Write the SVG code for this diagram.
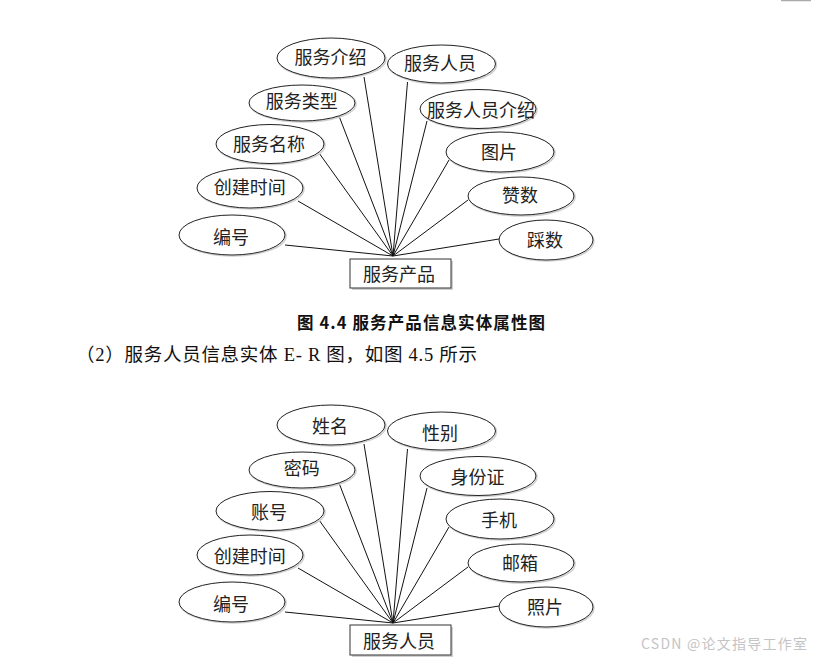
<svg xmlns="http://www.w3.org/2000/svg" width="819" height="662" viewBox="0 0 819 662">
<style>
.el{fill:#fff;stroke:#222;stroke-width:1}
.sh{fill:none;stroke:#cfcfcf;stroke-width:1.5}
.lb{font-family:"Noto Sans CJK SC","Noto Sans CJK JP",sans-serif;font-size:18px;fill:#222;text-anchor:middle}
.bx{fill:#fff;stroke:#333;stroke-width:1}
.bs{fill:#d0d0d0}
.ln{stroke:#111;stroke-width:1;fill:none}
</style>
<rect x="0" y="0" width="819" height="662" fill="#fff"/>
<line x1="781" y1="0.5" x2="811" y2="0.5" stroke="#aaa" stroke-width="1.5"/>

<g id="connectors1">
<line class="ln" x1="285" y1="245" x2="393" y2="256"/>
<line class="ln" x1="298" y1="201" x2="393" y2="256"/>
<line class="ln" x1="319" y1="153" x2="393" y2="256"/>
<line class="ln" x1="339" y1="116" x2="393" y2="256"/>
<line class="ln" x1="364" y1="77" x2="393" y2="256"/>
<line class="ln" x1="407.5" y1="82" x2="393" y2="256"/>
<line class="ln" x1="427" y1="121" x2="393" y2="256"/>
<line class="ln" x1="449" y1="160" x2="393" y2="256"/>
<line class="ln" x1="468" y1="200" x2="393" y2="256"/>
<line class="ln" x1="499" y1="239" x2="393" y2="256"/>
</g>

<g id="e1"><ellipse class="sh" cx="332" cy="59" rx="54" ry="20"/><ellipse class="el" cx="331" cy="58" rx="54" ry="20"/><text class="lb" x="330.5" y="64">服务介绍</text></g>
<g id="e2"><ellipse class="sh" cx="303" cy="104" rx="53" ry="18"/><ellipse class="el" cx="302" cy="103" rx="53" ry="18"/><text class="lb" x="301.7" y="108">服务类型</text></g>
<g id="e3"><ellipse class="sh" cx="271" cy="145" rx="54" ry="19.5"/><ellipse class="el" cx="270" cy="144" rx="54" ry="19.5"/><text class="lb" x="269" y="151">服务名称</text></g>
<g id="e4"><ellipse class="sh" cx="251" cy="189" rx="53" ry="20"/><ellipse class="el" cx="250" cy="188" rx="53" ry="20"/><text class="lb" x="249.7" y="194">创建时间</text></g>
<g id="e5"><ellipse class="sh" cx="233" cy="236" rx="53" ry="20"/><ellipse class="el" cx="232" cy="235" rx="53" ry="20"/><text class="lb" x="231" y="244">编号</text></g>
<g id="e6"><ellipse class="sh" cx="442.5" cy="65" rx="54" ry="19"/><ellipse class="el" cx="441.5" cy="64" rx="54" ry="19"/><text class="lb" x="440" y="70">服务人员</text></g>
<g id="e7"><ellipse class="sh" cx="479" cy="110" rx="58" ry="19.5"/><ellipse class="el" cx="478" cy="109" rx="58" ry="19.5"/><text class="lb" x="481" y="117">服务人员介绍</text></g>
<g id="e8"><ellipse class="sh" cx="501" cy="153" rx="54" ry="20"/><ellipse class="el" cx="500" cy="152" rx="54" ry="20"/><text class="lb" x="499" y="159">图片</text></g>
<g id="e9"><ellipse class="sh" cx="522" cy="197" rx="53" ry="19"/><ellipse class="el" cx="521" cy="196" rx="53" ry="19"/><text class="lb" x="520" y="202">赞数</text></g>
<g id="e10"><ellipse class="sh" cx="547" cy="241" rx="47" ry="20"/><ellipse class="el" cx="546" cy="240" rx="47" ry="20"/><text class="lb" x="545" y="246.5">踩数</text></g>
<g id="entity1"><rect class="bs" x="352" y="261" width="101" height="29"/><rect class="bx" x="350" y="259" width="101" height="29"/><text class="lb" x="399" y="281">服务产品</text></g>

<text x="297" y="329" font-family="Noto Sans CJK SC, sans-serif" font-size="16.5" font-weight="bold" fill="#111" textLength="248">图 4.4  服务产品信息实体属性图</text>
<text x="76" y="361" font-family="Liberation Serif, Noto Sans CJK SC, serif" font-size="18.5" fill="#111" textLength="401">（2）服务人员信息实体 E- R 图，如图 4.5 所示</text>

<g id="connectors2">
<line class="ln" x1="285" y1="612" x2="393" y2="623"/>
<line class="ln" x1="298" y1="568" x2="393" y2="623"/>
<line class="ln" x1="319" y1="520" x2="393" y2="623"/>
<line class="ln" x1="339" y1="483" x2="393" y2="623"/>
<line class="ln" x1="364" y1="444" x2="393" y2="623"/>
<line class="ln" x1="407.5" y1="449" x2="393" y2="623"/>
<line class="ln" x1="427" y1="488" x2="393" y2="623"/>
<line class="ln" x1="449" y1="527" x2="393" y2="623"/>
<line class="ln" x1="468" y1="567" x2="393" y2="623"/>
<line class="ln" x1="499" y1="606" x2="393" y2="623"/>
</g>

<g id="f1"><ellipse class="sh" cx="332" cy="426" rx="54" ry="20"/><ellipse class="el" cx="331" cy="425" rx="54" ry="20"/><text class="lb" x="330" y="433">姓名</text></g>
<g id="f2"><ellipse class="sh" cx="303" cy="471" rx="53" ry="18"/><ellipse class="el" cx="302" cy="470" rx="53" ry="18"/><text class="lb" x="301.7" y="475">密码</text></g>
<g id="f3"><ellipse class="sh" cx="271" cy="512" rx="54" ry="19.5"/><ellipse class="el" cx="270" cy="511" rx="54" ry="19.5"/><text class="lb" x="269" y="519">账号</text></g>
<g id="f4"><ellipse class="sh" cx="251" cy="556" rx="53" ry="20"/><ellipse class="el" cx="250" cy="555" rx="53" ry="20"/><text class="lb" x="249.7" y="563">创建时间</text></g>
<g id="f5"><ellipse class="sh" cx="233" cy="603" rx="53" ry="20"/><ellipse class="el" cx="232" cy="602" rx="53" ry="20"/><text class="lb" x="231" y="611">编号</text></g>
<g id="f6"><ellipse class="sh" cx="442.5" cy="432" rx="54" ry="19"/><ellipse class="el" cx="441.5" cy="431" rx="54" ry="19"/><text class="lb" x="440" y="440">性别</text></g>
<g id="f7"><ellipse class="sh" cx="479" cy="477" rx="58" ry="19.5"/><ellipse class="el" cx="478" cy="476" rx="58" ry="19.5"/><text class="lb" x="477.5" y="484">身份证</text></g>
<g id="f8"><ellipse class="sh" cx="501" cy="520" rx="54" ry="20"/><ellipse class="el" cx="500" cy="519" rx="54" ry="20"/><text class="lb" x="499" y="527">手机</text></g>
<g id="f9"><ellipse class="sh" cx="522" cy="564" rx="53" ry="19"/><ellipse class="el" cx="521" cy="563" rx="53" ry="19"/><text class="lb" x="520" y="570">邮箱</text></g>
<g id="f10"><ellipse class="sh" cx="547" cy="608" rx="47" ry="20"/><ellipse class="el" cx="546" cy="607" rx="47" ry="20"/><text class="lb" x="545" y="614">照片</text></g>
<g id="entity2"><rect class="bs" x="352" y="627" width="101" height="30"/><rect class="bx" x="350" y="625" width="101" height="30"/><text class="lb" x="399" y="648">服务人员</text></g>

<text x="641" y="649" font-family="Noto Sans CJK SC, sans-serif" font-size="14" fill="#c4c4c4" textLength="166">CSDN @论文指导工作室</text>
</svg>
